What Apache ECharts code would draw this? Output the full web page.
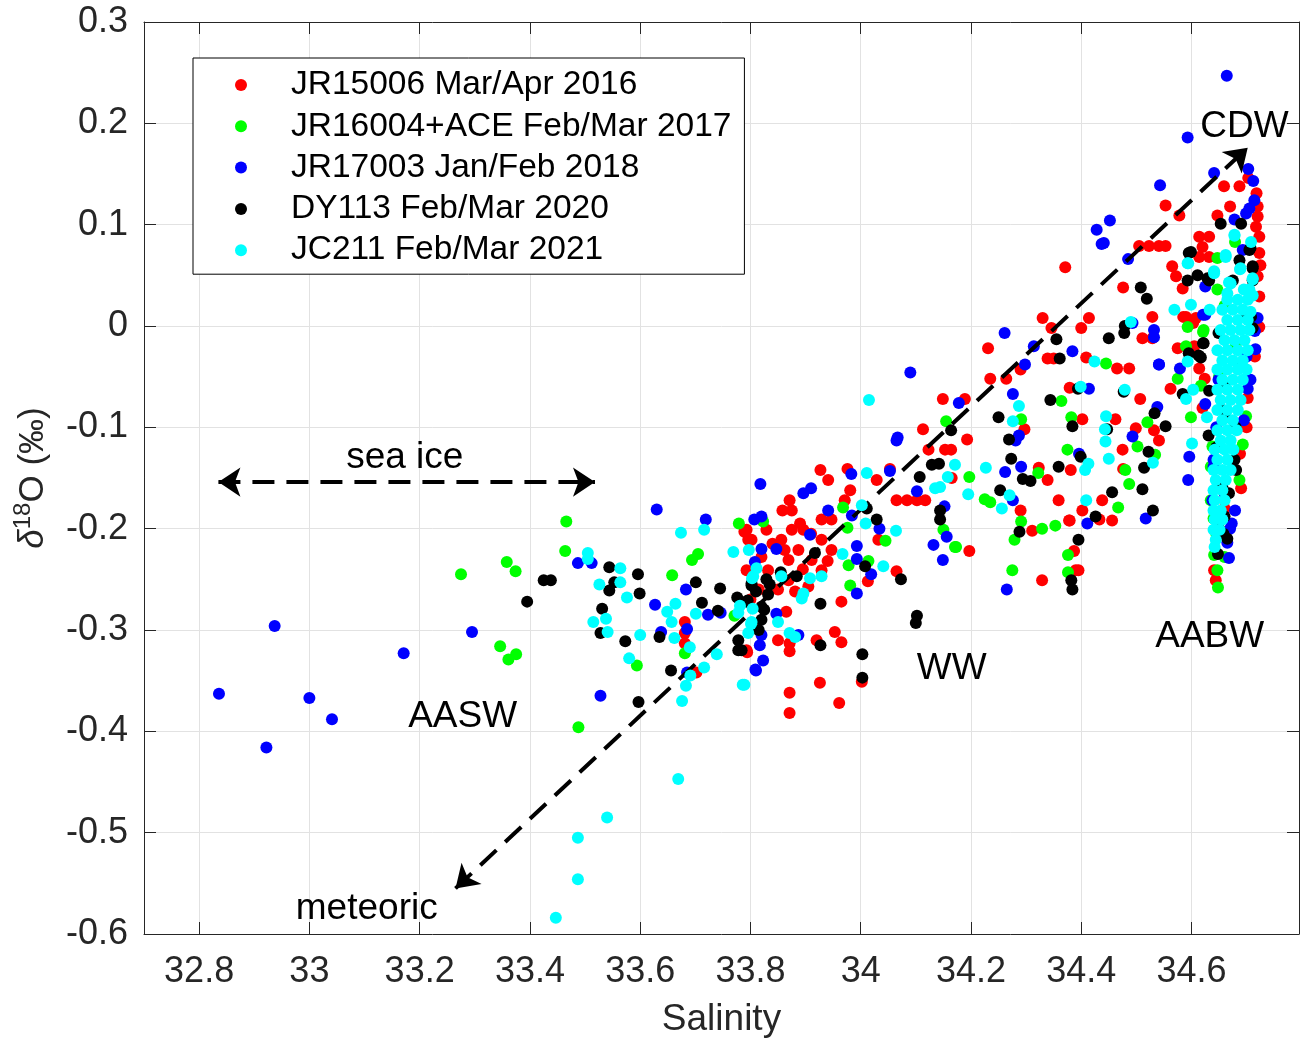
<!DOCTYPE html>
<html><head><meta charset="utf-8">
<script src="https://cdn.jsdelivr.net/npm/echarts@6/dist/echarts.min.js"></script>
<style>html,body{margin:0;padding:0;background:#fff}#c{width:1304px;height:1042px}</style>
</head><body><div id="c"></div>
<script>
// ---- data: [salinity, d18O] ----
const seriesNames = ['JR15006 Mar/Apr 2016','JR16004+ACE Feb/Mar 2017','JR17003 Jan/Feb 2018','DY113 Feb/Mar 2020','JC211 Feb/Mar 2021'];
const seriesColors = ['#ff0000','#00ff00','#0000ff','#000000','#00ffff'];

const jr15006 = [
[33.681,-0.292],[33.681,-0.303],[33.681,-0.313],[33.702,-0.342],[33.794,-0.322],[33.789,-0.203],[33.796,-0.211],[33.793,-0.241],
[33.927,-0.142],[33.941,-0.152],[33.976,-0.141],[33.981,-0.162],[33.971,-0.172],[33.871,-0.172],[33.858,-0.182],[33.875,-0.182],[33.929,-0.191],[33.947,-0.191],[34.029,-0.152],[34.053,-0.141],[34.065,-0.172],[34.084,-0.172],[34.102,-0.172],[34.117,-0.172],[34.123,-0.122],[34.153,-0.122],[34.164,-0.122],[34.165,-0.150],
[33.793,-0.201],[33.829,-0.201],[33.875,-0.201],[33.896,-0.201],[33.856,-0.211],[33.802,-0.211],[33.862,-0.221],[33.887,-0.221],[33.929,-0.211],[33.947,-0.221],[33.911,-0.231],[33.869,-0.231],[33.820,-0.228],[33.832,-0.241],[33.869,-0.251],[33.881,-0.262],[33.929,-0.241],[33.965,-0.272],[33.865,-0.282],[33.905,-0.257],
[33.840,-0.215],[33.895,-0.240],[33.910,-0.205],[33.850,-0.260],[33.815,-0.260],[33.800,-0.270],[33.940,-0.232],[33.890,-0.195],
[33.850,-0.310],[33.871,-0.313],[33.871,-0.321],[33.920,-0.310],[33.953,-0.302],[33.965,-0.312],[33.793,-0.320],[34.002,-0.351],[33.926,-0.352],[33.871,-0.362],[33.871,-0.382],[33.961,-0.372],[34.065,-0.242],[34.013,-0.252],[34.032,-0.211],
[34.231,-0.022],[34.235,-0.052],[34.264,-0.052],[34.149,-0.072],[34.189,-0.072],[34.113,-0.102],[34.193,-0.112],[34.297,-0.102],[34.323,-0.140],[34.339,-0.152],[34.290,-0.182],[34.311,-0.202],[34.359,-0.172],[34.379,-0.192],[34.381,-0.142],[34.379,-0.061],[34.339,-0.032],[34.350,-0.032],[34.197,-0.222],[34.329,-0.251],[34.390,-0.241],
[34.371,0.058],[34.476,0.038],[34.529,0.009],[34.511,-0.012],[34.529,-0.012],[34.330,0.008],[34.346,-0.002],[34.414,0.008],[34.400,-0.002],[34.409,-0.031],[34.465,-0.042],[34.487,-0.042],[34.290,-0.043],[34.507,-0.072],[34.402,-0.092],[34.462,-0.092],[34.499,-0.101],[34.532,-0.103],[34.541,-0.113],[34.475,-0.122],[34.476,-0.141],[34.438,-0.172],[34.402,-0.182],[34.378,-0.192],[34.456,-0.192],[34.433,-0.191],[34.387,-0.222],[34.395,-0.241],
[34.659,0.138],[34.687,0.138],[34.703,0.146],[34.553,0.119],[34.578,0.109],[34.670,0.118],[34.718,0.131],[34.720,0.118],[34.720,0.108],[34.717,0.098],[34.723,0.088],[34.505,0.079],[34.523,0.079],[34.541,0.079],[34.553,0.079],[34.647,0.109],[34.614,0.088],[34.632,0.088],[34.620,0.078],[34.632,0.068],[34.614,0.068],[34.565,0.059],[34.572,0.049],[34.584,0.037],[34.585,0.009],[34.603,0.003],[34.720,0.049],[34.723,0.072],[34.723,0.029],
[34.723,-0.001],[34.702,-0.071],[34.688,-0.126],[34.641,-0.241],[34.644,-0.251],[34.620,-0.081],[34.624,-0.052],[34.614,-0.042],[34.562,-0.062],[34.575,-0.022],[34.605,-0.020],[34.590,0.009],[34.608,0.008],[34.725,0.060],[34.700,-0.100],[34.715,-0.030],[34.690,-0.160],[34.660,-0.180]
];

const jr16004 = [
[33.275,-0.245],[33.358,-0.233],[33.374,-0.242],[33.346,-0.316],[33.375,-0.324],[33.361,-0.329],
[33.466,-0.193],[33.464,-0.222],[33.779,-0.195],[33.705,-0.225],[33.694,-0.231],[33.658,-0.246],[33.681,-0.323],[33.594,-0.335],[33.488,-0.396],[33.771,-0.286],
[33.968,-0.179],[33.823,-0.193],[33.976,-0.199],[34.045,-0.212],[33.978,-0.236],[34.014,-0.232],[33.981,-0.256],[34.171,-0.218],[34.150,-0.201],
[34.155,-0.094],[34.291,-0.092],[34.364,-0.074],[34.382,-0.090],[34.375,-0.122],[34.322,-0.145],[34.197,-0.149],[34.225,-0.171],[34.235,-0.174],[34.291,-0.193],[34.329,-0.200],[34.353,-0.197],[34.279,-0.211],[34.173,-0.218],[34.376,-0.226],[34.275,-0.241],[34.376,-0.243],
[34.445,-0.037],[34.520,-0.095],[34.502,-0.119],[34.534,-0.127],[34.480,-0.142],[34.487,-0.156],[34.467,-0.179],
[34.679,0.083],[34.647,0.067],[34.647,0.036],[34.593,-0.001],[34.622,-0.004],
[34.641,-0.226],[34.660,-0.228],[34.647,-0.241],[34.648,-0.258],[34.687,-0.152],[34.699,-0.089],[34.693,-0.117],[34.638,-0.119],[34.635,-0.139],[34.635,-0.172],[34.640,-0.190],[34.645,-0.205],[34.599,-0.090],[34.575,-0.052],[34.617,-0.059],[34.590,-0.020],[34.621,-0.006],[34.660,0.020],[34.680,-0.020],[34.650,-0.050]
];

const jr17003 = [
[32.937,-0.296],[32.836,-0.363],[33.000,-0.367],[33.041,-0.388],[32.922,-0.416],[33.171,-0.323],[33.295,-0.302],
[33.487,-0.234],[33.512,-0.234],[33.630,-0.181],[33.719,-0.191],[33.683,-0.260],[33.627,-0.275],[33.723,-0.285],[33.746,-0.283],[33.685,-0.299],[33.638,-0.302],[33.685,-0.342],[33.528,-0.365],[33.810,-0.340],
[33.818,-0.156],[33.896,-0.165],[33.910,-0.160],[33.983,-0.146],[34.053,-0.143],[33.941,-0.182],[33.984,-0.187],[33.807,-0.191],[33.820,-0.188],[33.908,-0.206],[33.847,-0.220],[33.820,-0.220],[33.993,-0.217],[33.993,-0.230],[34.019,-0.245],[33.993,-0.264],[34.034,-0.200],[34.102,-0.163],[34.152,-0.178],[34.156,-0.208],[34.132,-0.216],[34.149,-0.231],[33.808,-0.233],[33.820,-0.305],[33.817,-0.315],[33.823,-0.330],[33.809,-0.339],[33.847,-0.284],[33.887,-0.305],[34.065,-0.113],
[34.090,-0.046],[34.178,-0.076],[34.067,-0.110],[34.276,-0.067],[34.298,-0.038],[34.314,-0.020],[34.384,-0.025],[34.262,-0.144],[34.291,-0.139],[34.276,-0.172],[34.281,-0.113],[34.287,-0.108],[34.265,-0.260],[34.396,-0.126],
[34.437,0.081],[34.485,0.066],[34.493,0.003],[34.532,-0.004],[34.532,-0.011],[34.261,-0.007],[34.541,-0.038],[34.414,-0.062],[34.538,-0.080],[34.493,-0.109],[34.411,-0.195],[34.517,-0.190],[34.428,0.095],
[34.664,0.247],[34.593,0.186],[34.641,0.151],[34.543,0.139],[34.452,0.104],[34.441,0.082],[34.703,0.155],[34.712,0.143],[34.714,0.124],[34.705,0.116],[34.699,0.111],
[34.720,0.008],[34.716,-0.023],[34.707,-0.053],[34.702,-0.062],[34.695,-0.093],[34.649,-0.053],[34.640,-0.132],[34.640,-0.139],[34.638,-0.172],[34.668,-0.229],[34.665,-0.214],[34.673,-0.195],[34.679,-0.182],[34.678,0.105],[34.693,0.075],[34.625,0.039],[34.625,0.011],[34.645,-0.100],[34.660,-0.165],[34.670,-0.200],[34.700,-0.030],[34.715,-0.005],[34.621,0.011],[34.579,-0.042],[34.541,-0.038],[34.625,-0.077],[34.594,-0.152],[34.596,-0.129]
];

const dy113 = [
[33.395,-0.272],[33.425,-0.251],[33.438,-0.251],
[33.544,-0.238],[33.596,-0.245],[33.553,-0.253],[33.544,-0.261],[33.599,-0.264],[33.701,-0.253],[33.745,-0.259],[33.531,-0.279],[33.528,-0.303],[33.573,-0.311],[33.712,-0.273],[33.741,-0.281],[33.635,-0.307],[33.656,-0.340],[33.597,-0.371],[33.778,-0.310],[33.778,-0.320],[33.776,-0.268],[33.795,-0.271],[33.802,-0.256],
[34.107,-0.149],[34.129,-0.137],[34.142,-0.136],[34.011,-0.180],[34.029,-0.191],[34.144,-0.182],[34.144,-0.191],[33.917,-0.224],[34.008,-0.237],[34.073,-0.250],[33.884,-0.247],[33.855,-0.243],[33.829,-0.250],[33.832,-0.265],[33.802,-0.254],[33.820,-0.277],[33.820,-0.290],[33.927,-0.274],[33.927,-0.315],[34.003,-0.324],[34.003,-0.347],[34.102,-0.286],[34.100,-0.293],[33.793,-0.272],[33.784,-0.320],
[33.810,-0.262],[33.825,-0.280],[33.815,-0.300],[33.835,-0.255],
[34.250,-0.090],[34.269,-0.112],[34.273,-0.131],[34.294,-0.151],[34.308,-0.153],[34.253,-0.162],[34.344,-0.073],[34.384,-0.099],[34.359,-0.139],[34.288,-0.203],[34.395,-0.211],[34.382,-0.251],[34.384,-0.260],[34.164,-0.103],[34.361,-0.032],
[34.508,0.038],[34.519,0.027],[34.479,0.000],[34.478,-0.007],[34.450,-0.012],[34.355,-0.013],[34.533,-0.086],[34.477,-0.065],[34.394,-0.062],[34.447,-0.102],[34.399,-0.129],[34.522,-0.124],[34.514,-0.140],[34.456,-0.164],[34.511,-0.161],[34.530,-0.182],[34.426,-0.188],
[34.653,0.101],[34.690,0.101],[34.595,0.072],[34.611,0.050],[34.593,0.045],[34.632,0.045],[34.705,0.075],[34.711,0.059],[34.711,0.045],[34.687,0.065],
[34.708,0.009],[34.711,-0.002],[34.649,-0.007],[34.656,-0.083],[34.662,-0.090],[34.678,-0.132],[34.681,-0.142],[34.656,-0.159],[34.668,-0.165],[34.649,-0.185],[34.660,-0.188],[34.658,-0.205],[34.711,0.057],[34.675,0.045],[34.707,0.077],[34.599,0.073],[34.629,0.047],[34.622,-0.017],[34.595,-0.027],[34.613,-0.029],[34.617,-0.031],[34.621,-0.017],[34.632,-0.064],[34.584,-0.067],[34.631,-0.108],[34.553,-0.099],[34.660,-0.060],[34.680,-0.100],[34.645,-0.120],[34.650,-0.200],[34.665,-0.210],[34.648,-0.225],[34.690,-0.040],[34.700,0.010]
];

const jc211 = [
[33.447,-0.584],[33.487,-0.505],[33.487,-0.546],[33.540,-0.485],[33.669,-0.447],
[33.505,-0.224],[33.505,-0.230],[33.564,-0.239],[33.526,-0.255],[33.564,-0.253],[33.576,-0.268],[33.674,-0.204],[33.716,-0.201],[33.769,-0.223],[33.538,-0.289],[33.515,-0.292],[33.541,-0.302],[33.600,-0.305],[33.649,-0.282],[33.664,-0.274],[33.657,-0.292],[33.701,-0.284],[33.662,-0.308],[33.690,-0.317],[33.580,-0.328],[33.739,-0.324],[33.716,-0.337],[33.691,-0.345],[33.683,-0.355],[33.676,-0.370],[33.786,-0.354],
[33.801,-0.294],[33.796,-0.303],[33.781,-0.276],[33.778,-0.283],[33.804,-0.279],[33.797,-0.221],[33.811,-0.239],[33.803,-0.249],
[34.011,-0.145],[34.002,-0.177],[34.009,-0.195],[34.064,-0.202],[34.171,-0.137],[34.158,-0.149],[34.135,-0.160],[34.144,-0.159],[33.967,-0.225],[34.041,-0.237],[33.929,-0.247],[33.908,-0.249],[33.896,-0.264],[33.893,-0.269],[33.805,-0.247],[33.871,-0.303],[33.881,-0.307],[33.850,-0.292],[33.802,-0.292],[33.789,-0.354],[33.856,-0.247],
[34.015,-0.073],[34.287,-0.079],[34.276,-0.094],[34.227,-0.140],[34.195,-0.166],[34.256,-0.180],[34.270,-0.167],[34.399,-0.060],
[34.490,0.004],[34.424,-0.035],[34.479,-0.063],[34.445,-0.089],[34.443,-0.102],[34.444,-0.114],[34.450,-0.131],[34.413,-0.136],[34.407,-0.142],[34.530,-0.135],[34.409,-0.172],
[34.594,0.062],[34.708,0.083],[34.678,0.089],[34.662,0.070],[34.641,0.054],[34.688,0.056],[34.711,0.046],[34.668,0.043],[34.695,0.036],[34.665,0.032],[34.705,0.032],[34.569,0.016],[34.599,0.021],[34.633,0.016],
[34.601,-0.116],[34.628,-0.090],[34.603,-0.063],[34.590,-0.072],[34.593,-0.035],
[34.678,0.090],[34.662,0.068],[34.641,0.052],[34.671,0.042],[34.689,0.057],[34.711,0.047],[34.705,0.036],[34.593,0.062],
[34.665,0.026],[34.684,0.026],[34.702,0.026],[34.711,0.030],
[34.656,0.016],[34.675,0.016],[34.693,0.016],[34.707,0.014],
[34.665,0.006],[34.684,0.006],[34.702,0.006],
[34.653,-0.004],[34.671,-0.004],[34.689,-0.004],[34.705,-0.004],
[34.660,-0.014],[34.678,-0.014],[34.696,-0.014],
[34.647,-0.024],[34.665,-0.024],[34.684,-0.024],[34.702,-0.024],
[34.656,-0.034],[34.675,-0.034],[34.693,-0.034],
[34.647,-0.043],[34.665,-0.043],[34.684,-0.043],[34.700,-0.043],
[34.656,-0.053],[34.675,-0.053],[34.693,-0.053],
[34.647,-0.063],[34.665,-0.063],[34.684,-0.063],
[34.653,-0.073],[34.671,-0.073],[34.689,-0.073],
[34.647,-0.083],[34.665,-0.083],[34.684,-0.083],
[34.656,-0.093],[34.675,-0.093],
[34.647,-0.103],[34.665,-0.103],[34.682,-0.103],
[34.653,-0.113],[34.671,-0.113],
[34.642,-0.122],[34.660,-0.122],[34.676,-0.122],
[34.647,-0.132],[34.665,-0.132],
[34.640,-0.142],[34.656,-0.142],[34.671,-0.142],
[34.644,-0.152],[34.662,-0.152],
[34.640,-0.162],[34.656,-0.162],
[34.642,-0.172],[34.660,-0.172],
[34.640,-0.182],[34.653,-0.182],
[34.642,-0.191],[34.656,-0.191],
[34.640,-0.201],[34.651,-0.201],
[34.644,-0.211],[34.642,-0.218]
];

// annotations (text at salinity / d18O)
const annotationTexts = ['sea ice','CDW','AASW','WW','AABW','meteoric'];
const annotationSal   = [33.173, 34.696, 33.278, 34.165, 34.633, 33.104];
const annotationD18O  = [-0.130, 0.197, -0.386, -0.338, -0.307, -0.575];

// dashed arrows
const mixingLine = [[33.265,-0.555],[34.702,0.176]];
const seaIceLine = [[32.835,-0.154],[33.518,-0.154]];

// ---- chart ----
const FONT = 'Liberation Sans, Arial, Helvetica, sans-serif';
const TXT = '#262626';
const allData = [jr15006, jr16004, jr17003, dy113, jc211];

const axisCommonX = {
  type:'value', min:32.7, max:34.795, minInterval:0.2, maxInterval:0.2, splitNumber:10
};
const axisCommonY = {
  type:'value', min:-0.6, max:0.3, interval:0.1
};
const lineSt = {show:true, onZero:false, lineStyle:{color:TXT, width:1}};
const tickSt = {show:true, inside:true, length:12, lineStyle:{color:TXT, width:1}};

const series = allData.map((d,i)=>({
  name: seriesNames[i], type:'scatter', data:d, symbol:'circle', symbolSize:12,
  itemStyle:{color:seriesColors[i], opacity:1}, emphasis:{disabled:true}, z:2+i
}));

series.push({
  name:'annotations', type:'scatter', symbolSize:2, z:20,
  itemStyle:{color:'rgba(255,255,255,0)'}, emphasis:{disabled:true}, silent:true,
  data: annotationTexts.map((t,i)=>({name:t, value:[annotationSal[i], annotationD18O[i]]})),
  label:{show:true, position:'inside', formatter:p=>p.name, fontSize:37, color:'#000', fontFamily:FONT, opacity:1},
  labelLayout:{hideOverlap:false},
  markLine:{
    silent:true, symbol:['arrow','arrow'], symbolSize:22, precision:4,
    label:{show:false}, emphasis:{disabled:true},
    lineStyle:{color:'#000', width:4, type:[22,12], opacity:1},
    data:[
      [{coord:mixingLine[0]},{coord:mixingLine[1]}],
      [{coord:seaIceLine[0]},{coord:seaIceLine[1]}]
    ]
  }
});

const option = {
  animation:false,
  backgroundColor:'#fff',
  textStyle:{fontFamily:FONT},
  grid:{left:144, right:5, top:22, bottom:108, containLabel:false, outerBoundsMode:'none'},
  legend:{
    data:seriesNames, orient:'vertical', left:193, top:58,
    icon:'circle', itemWidth:90, itemHeight:12, itemGap:5.3,
    padding:[9,13,6,42], borderColor:'#000', borderWidth:1, backgroundColor:'#fff',
    textStyle:{fontSize:33.5, color:'#000', fontFamily:FONT, lineHeight:36},
    selectedMode:false
  },
  xAxis:[
    Object.assign({}, axisCommonX, {
      position:'bottom', axisLine:lineSt, axisTick:tickSt,
      axisLabel:{fontSize:36, color:TXT, margin:20, fontFamily:FONT, showMinLabel:false, showMaxLabel:false},
      splitLine:{show:true, lineStyle:{color:'#e2e2e2', width:1}},
      name:'Salinity', nameLocation:'middle', nameGap:67,
      nameTextStyle:{fontSize:37, color:TXT, fontFamily:FONT}
    }),
    Object.assign({}, axisCommonX, {
      position:'top', axisLine:lineSt, axisTick:tickSt,
      axisLabel:{show:false}, splitLine:{show:false}
    })
  ],
  yAxis:[
    Object.assign({}, axisCommonY, {
      position:'left', axisLine:lineSt, axisTick:tickSt,
      axisLabel:{fontSize:36, color:TXT, margin:16, fontFamily:FONT},
      splitLine:{show:true, lineStyle:{color:'#e2e2e2', width:1}},
      name:'{d|δ}{s|18}O (‰)', nameLocation:'middle', nameRotate:90, nameGap:88,
      nameTextStyle:{fontSize:35, color:TXT, fontFamily:FONT,
        rich:{
          d:{fontStyle:'italic', fontSize:35, color:TXT, fontFamily:FONT},
          s:{fontSize:24, color:TXT, fontFamily:FONT, verticalAlign:'bottom', padding:[0,0,21,0]}
        }}
    }),
    Object.assign({}, axisCommonY, {
      position:'right', axisLine:lineSt, axisTick:tickSt,
      axisLabel:{show:false}, splitLine:{show:false}
    })
  ],
  series: series
};

const chart = echarts.init(document.getElementById('c'));
chart.setOption(option);
</script>
</body></html>
